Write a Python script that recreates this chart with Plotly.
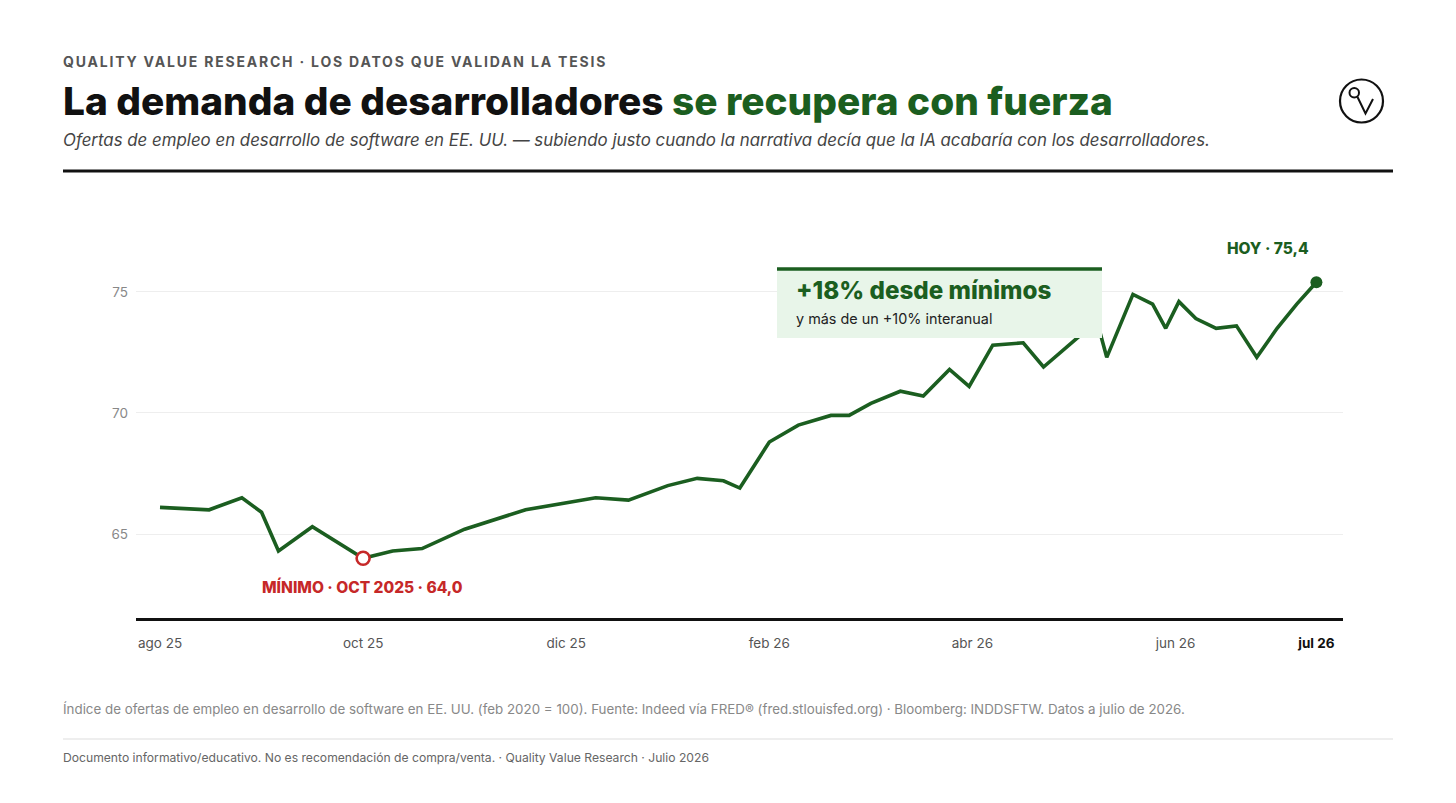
import calendar
import plotly.graph_objects as go

# ---------------- data ----------------
dates = ["2025-08-01", "2025-08-16", "2025-08-26", "2025-09-01", "2025-09-06", "2025-09-16",
         "2025-10-01", "2025-10-10", "2025-10-19", "2025-11-01", "2025-11-19", "2025-12-10",
         "2025-12-20", "2026-01-01", "2026-01-10", "2026-01-18", "2026-01-23", "2026-02-01",
         "2026-02-09", "2026-02-18", "2026-02-23", "2026-03-01", "2026-03-10", "2026-03-17",
         "2026-03-25", "2026-03-31", "2026-04-07", "2026-04-16", "2026-04-22", "2026-05-08",
         "2026-05-11", "2026-05-19", "2026-05-25", "2026-05-29", "2026-06-02", "2026-06-07",
         "2026-06-13", "2026-06-19", "2026-06-25", "2026-07-01", "2026-07-07", "2026-07-13"]
values = [66.1, 66.0, 66.5, 65.9, 64.3, 65.3,
          64.0, 64.3, 64.4, 65.2, 66.0, 66.5,
          66.4, 67.0, 67.3, 67.2, 66.9, 68.8,
          69.5, 69.9, 69.9, 70.4, 70.9, 70.7,
          71.8, 71.1, 72.8, 72.9, 71.9, 73.8,
          72.3, 74.9, 74.5, 73.5, 74.6, 73.9,
          73.5, 73.6, 72.3, 73.5, 74.5, 75.4]

tick_dates = ["2025-08-01", "2025-10-01", "2025-12-01", "2026-02-01", "2026-04-01", "2026-06-01", "2026-07-13"]
tick_labels = ["ago 25", "oct 25", "dic 25", "feb 26", "abr 26", "jun 26", "jul 26"]
y_ticks = [65, 70, 75]

min_label = "MÍNIMO · OCT 2025 · 64,0"
last_label = "HOY · 75,4"
box_title = "+18% desde mínimos"
box_sub = "y más de un +10% interanual"


def month_pos(d):
    """Date -> months since Aug 2025 (each month equally wide)."""
    y, m, dd = (int(p) for p in d.split("-"))
    return (y - 2025) * 12 + (m - 8) + (dd - 1) / calendar.monthrange(y, m)[1]


xs = [month_pos(d) for d in dates]
tick_x = [month_pos(d) for d in tick_dates]

# ---------------- style ----------------
GREEN = "#1b5e20"
RED = "#c62828"
FONT = "Inter"
W, H = 1456, 803
OFF = 8  # page body offset compensation
PL, PR, PT, PB = 136, 1343, 200, 618  # plot area in target pixels


def px(x):
    return (x - PL) / (PR - PL)


def py(y):
    return (PB - y) / (PB - PT)


imin = values.index(min(values))

fig = go.Figure()
fig.add_trace(go.Scatter(x=xs, y=values, mode="lines",
                         line=dict(color=GREEN, width=3.6), hoverinfo="skip"))
fig.add_trace(go.Scatter(x=[xs[imin]], y=[values[imin]], mode="markers",
                         marker=dict(size=13, color="white", line=dict(color=RED, width=2.6)),
                         hoverinfo="skip"))
fig.add_trace(go.Scatter(x=[xs[-1]], y=[values[-1]], mode="markers",
                         marker=dict(size=12, color=GREEN), hoverinfo="skip"))

ticktext = [f"<span style='color:#555'>{t}</span>" for t in tick_labels[:-1]]
ticktext.append(f"<b><span style='color:#111'>{tick_labels[-1]}</span></b>")

fig.update_layout(
    width=W, height=H,
    margin=dict(l=PL - OFF, r=W - PR + OFF, t=PT - OFF, b=H - PB + OFF, pad=0),
    paper_bgcolor="white", plot_bgcolor="white",
    showlegend=False,
    font=dict(family=FONT, color="#555"),
    xaxis=dict(range=[-0.2363, 11.649],
               tickvals=tick_x, ticktext=ticktext,
               tickfont=dict(size=13.5, family=FONT, color="#555"),
               showgrid=False, zeroline=False, showline=True, linecolor="#111", linewidth=2.5,
               ticks="", ticklabelstandoff=11, fixedrange=True),
    yaxis=dict(range=[61.53, 78.8], tickvals=y_ticks, ticktext=[str(v) for v in y_ticks],
               tickfont=dict(size=13.5, family=FONT, color="#888"),
               showgrid=True, gridcolor="#eeeeee", gridwidth=1, zeroline=False,
               showline=False, ticks="", ticklabelstandoff=7, fixedrange=True),
)

shapes = []
# header rule
shapes.append(dict(type="line", xref="paper", yref="paper", x0=px(63), x1=px(1393), y0=py(171), y1=py(171),
                   line=dict(color="#111", width=3)))
# footer separator
shapes.append(dict(type="line", xref="paper", yref="paper", x0=px(63), x1=px(1393), y0=py(739), y1=py(739),
                   line=dict(color="#dddddd", width=1)))
# callout box
shapes.append(dict(type="rect", xref="paper", yref="paper", x0=px(777), x1=px(1102), y0=py(338), y1=py(268),
                   fillcolor="#e8f5e9", line=dict(width=0), layer="above"))
shapes.append(dict(type="line", xref="paper", yref="paper", x0=px(777), x1=px(1102), y0=py(269), y1=py(269),
                   line=dict(color=GREEN, width=3.5), layer="above"))
# logo
shapes.append(dict(type="circle", xref="paper", yref="paper", x0=px(1340), x1=px(1383), y0=py(122.5), y1=py(79.5),
                   line=dict(color="#111", width=2.2)))
shapes.append(dict(type="circle", xref="paper", yref="paper", x0=px(1349.5), x1=px(1359), y0=py(97.5), y1=py(88),
                   line=dict(color="#111", width=2)))
shapes.append(dict(type="path", xref="paper", yref="paper",
                   path=f"M {px(1357.5)} {py(97)} L {px(1365.5)} {py(113.5)} L {px(1373)} {py(99)}",
                   line=dict(color="#111", width=2)))
fig.update_layout(shapes=shapes)

ann = []


def add_text(x, y, text, size, color, xanchor="left", italic=False, weight=None):
    t = text
    if italic:
        t = f"<i>{t}</i>"
    f = dict(family=FONT, size=size, color=color)
    if weight is not None:
        f["weight"] = weight
    ann.append(dict(xref="paper", yref="paper", x=px(x), y=py(y), text=t, showarrow=False,
                    xanchor=xanchor, yanchor="middle", font=f, align="left"))


add_text(61, 62, "<span style='letter-spacing:1.8px'>QUALITY VALUE RESEARCH · LOS DATOS QUE VALIDAN LA TESIS</span>",
         14, "#555", weight=700)
add_text(61, 101, f"La demanda de desarrolladores <span style='color:{GREEN}'>se recupera con fuerza</span>",
         38.8, "#111", weight=800)
add_text(61, 140, "Ofertas de empleo en desarrollo de software en EE. UU. — subiendo justo cuando la narrativa decía que la IA acabaría con los desarrolladores.",
         16.85, "#444", italic=True)
add_text(794, 290, box_title, 24.2, GREEN, weight=800)
add_text(794, 318, box_sub, 14.4, "#222")
add_text(1310.5, 248, last_label, 15.5, GREEN, xanchor="right", weight=800)
add_text(362.5, 587, min_label, 15.5, RED, xanchor="center", weight=800)
add_text(61, 709, "Índice de ofertas de empleo en desarrollo de software en EE. UU. (feb 2020 = 100). Fuente: Indeed vía FRED® (fred.stlouisfed.org) · Bloomberg: INDDSFTW. Datos a julio de 2026.",
         13.35, "#888")
add_text(61, 757, "Documento informativo/educativo. No es recomendación de compra/venta. · Quality Value Research · Julio 2026",
         12.15, "#666")
fig.update_layout(annotations=ann)

fig.write_html("out.html", config={"displayModeBar": False})
